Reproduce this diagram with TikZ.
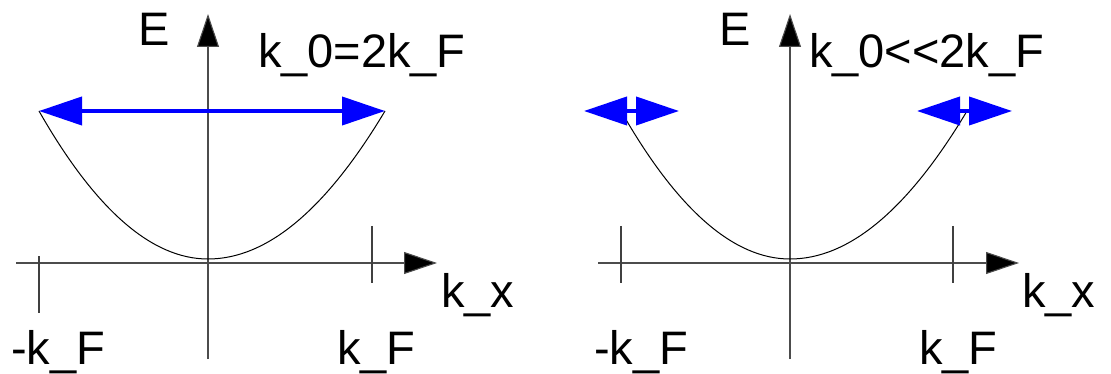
\documentclass[tikz,border=0pt]{standalone}
\usepackage{fontspec}
\setmainfont{Liberation Sans}
\usetikzlibrary{arrows.meta}
\tikzset{
  axis/.style={line width=1.1pt, draw=black!70, -{Triangle[length=33pt,width=22pt,fill=black]}},
  tickline/.style={line width=1.1pt, draw=black!75},
  band/.style={line width=1pt, draw=black},
  kick/.style={line width=4pt, draw=blue, {Triangle[length=43pt,width=28pt]}-{Triangle[length=43pt,width=28pt]}},
  lbl/.style={anchor=base west, inner sep=0pt, outer sep=0pt, font=\fontsize{47}{56}\selectfont}
}
\begin{document}
\begin{tikzpicture}[x=1pt,y=-1pt]
\useasboundingbox (0,0) rectangle (1111,374);
% ---------- left panel ----------
\coordinate (Lyb) at (208,359);
\coordinate (Lyt) at (208,14);
\coordinate (Lxl) at (16,263);
\coordinate (Lxr) at (437,263);
\draw[axis] (Lyb) -- (Lyt);
\draw[axis] (Lxl) -- (Lxr);
\coordinate (Lt1a) at (39,256); \coordinate (Lt1b) at (39,313);
\coordinate (Lt2a) at (372,226); \coordinate (Lt2b) at (372,283);
\draw[tickline] (Lt1a) -- (Lt1b);
\draw[tickline] (Lt2a) -- (Lt2b);
\coordinate (Lpl) at (39,111);
\coordinate (Lpv) at (208,259);
\coordinate (Lpr) at (385,111);
\draw[band] (Lpl) .. controls (95.3,209.7) and (151.7,259) .. (Lpv)
  .. controls (267,259) and (326,209.7) .. (Lpr);
\draw[kick] (Lpl) -- (Lpr);
\node[lbl] (LE) at (138,46) {E};
\node[lbl] (Lk0) at (258,68) {k\_0=2k\_F};
\node[lbl] (Lkx) at (441,307) {k\_x};
\node[lbl] (LmkF) at (11,364) {-k\_F};
\node[lbl] (LkF) at (337,364) {k\_F};
% ---------- right panel ----------
\coordinate (Ryb) at (790,359);
\coordinate (Ryt) at (790,14);
\coordinate (Rxl) at (598,263);
\coordinate (Rxr) at (1019,263);
\draw[axis] (Ryb) -- (Ryt);
\draw[axis] (Rxl) -- (Rxr);
\coordinate (Rt1a) at (621,226); \coordinate (Rt1b) at (621,283);
\coordinate (Rt2a) at (953,226); \coordinate (Rt2b) at (953,283);
\draw[tickline] (Rt1a) -- (Rt1b);
\draw[tickline] (Rt2a) -- (Rt2b);
\coordinate (Rpl) at (621,111);
\coordinate (Rpv) at (790,259);
\coordinate (Rpr) at (967,111);
\draw[band] (Rpl) .. controls (677.3,209.7) and (733.7,259) .. (Rpv)
  .. controls (849,259) and (908,209.7) .. (Rpr);
\coordinate (Ra1) at (584,111); \coordinate (Ra2) at (679,111);
\coordinate (Rb1) at (917,111); \coordinate (Rb2) at (1012,111);
\draw[kick] (Ra1) -- (Ra2);
\draw[kick] (Rb1) -- (Rb2);
\node[lbl] (RE) at (719,46) {E};
\node[lbl] (Rk0) at (809,68) {k\_0<{}<2k\_F};
\node[lbl] (Rkx) at (1022,307) {k\_x};
\node[lbl] (RmkF) at (594,364) {-k\_F};
\node[lbl] (RkF) at (919,364) {k\_F};
\end{tikzpicture}
\end{document}
